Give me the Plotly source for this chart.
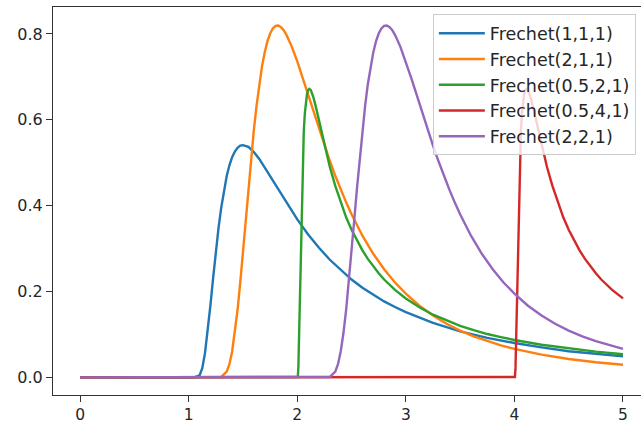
import plotly.graph_objects as go

# Frechet(1,1,1)
x1 = [0.0, 1.0, 1.05, 1.1, 1.125, 1.15, 1.175, 1.2, 1.225, 1.25, 1.275, 1.3, 1.325, 1.35, 1.375, 1.4, 1.425,
      1.45, 1.475, 1.5, 1.55, 1.6, 1.65, 1.7, 1.75, 1.8, 1.9, 2.0, 2.1, 2.2, 2.3, 2.4, 2.5, 2.6, 2.7, 2.8,
      2.9, 3.0, 3.25, 3.5, 3.75, 4.0, 4.25, 4.5, 4.75, 5.0]
y1 = [0, 0, 0, 0.0045, 0.0215, 0.0565, 0.108, 0.168, 0.232, 0.293, 0.349, 0.396, 0.437, 0.469, 0.494, 0.513, 0.526,
      0.535, 0.540, 0.541, 0.537, 0.525, 0.509, 0.489, 0.469, 0.448, 0.406, 0.368, 0.333, 0.302, 0.274, 0.250, 0.228, 0.209, 0.192, 0.177,
      0.164, 0.152, 0.127, 0.107, 0.092, 0.080, 0.070, 0.061, 0.055, 0.049]

# Frechet(2,1,1)
x2 = [0.0, 1.25, 1.3, 1.35, 1.375, 1.4, 1.425, 1.45, 1.475, 1.5, 1.525, 1.55, 1.575, 1.6, 1.625, 1.65, 1.675,
      1.7, 1.725, 1.75, 1.775, 1.8, 1.825, 1.85, 1.875, 1.9, 1.95, 2.0, 2.05, 2.1, 2.15, 2.2, 2.25, 2.3, 2.35,
      2.4, 2.45, 2.5, 2.6, 2.7, 2.8, 2.9, 3.0, 3.125, 3.25, 3.375, 3.5, 3.625, 3.75, 3.875, 4.0, 4.25, 4.5, 4.75, 5.0]
y2 = [0, 0, 0.0011, 0.0133, 0.0309, 0.0603, 0.1028, 0.157, 0.2219, 0.293, 0.3672, 0.441, 0.511, 0.576, 0.633, 0.683, 0.7245,
      0.757, 0.783, 0.801, 0.813, 0.819, 0.8197, 0.816, 0.8087, 0.798, 0.770, 0.736, 0.697, 0.658, 0.617, 0.578, 0.540, 0.504, 0.4696,
      0.438, 0.4077, 0.380, 0.330, 0.288, 0.252, 0.2211, 0.195, 0.167, 0.144, 0.125, 0.109, 0.0956, 0.0843, 0.0746, 0.0663, 0.0530, 0.0430, 0.0353, 0.0294]

# Frechet(0.5,2,1)
x3 = [0.0, 2.0, 2.005, 2.01, 2.015, 2.02, 2.025, 2.03, 2.035, 2.04, 2.045, 2.05, 2.06, 2.07, 2.08, 2.09, 2.1, 2.111,
      2.125, 2.15, 2.175, 2.2, 2.25, 2.3, 2.35, 2.4, 2.45, 2.5, 2.55, 2.6, 2.65, 2.7, 2.75, 2.8, 2.9, 3.0,
      3.125, 3.25, 3.375, 3.5, 3.625, 3.75, 3.875, 4.0, 4.25, 4.5, 4.75, 5.0]
y3 = [0, 0, 0.001, 0.0227, 0.0774, 0.150, 0.2267, 0.298, 0.3646, 0.421, 0.470, 0.511, 0.574, 0.616, 0.644, 0.661, 0.669, 0.672,
      0.669, 0.651, 0.626, 0.598, 0.541, 0.490, 0.446, 0.407, 0.373, 0.344, 0.3184, 0.296, 0.276, 0.258, 0.2426, 0.228, 0.204, 0.184,
      0.1632, 0.146, 0.1322, 0.120, 0.1101, 0.101, 0.0938, 0.0872, 0.0761, 0.0672, 0.060, 0.0540]

# Frechet(0.5,4,1)
x4 = [0.0, 4.0, 4.005, 4.01, 4.015, 4.02, 4.025, 4.03, 4.035, 4.04, 4.045, 4.05, 4.06, 4.07, 4.08, 4.09, 4.1, 4.111,
      4.125, 4.15, 4.175, 4.2, 4.25, 4.3, 4.35, 4.4, 4.45, 4.5, 4.55, 4.6, 4.65, 4.7, 4.75, 4.8, 4.9, 5.0]
y4 = [0, 0, 0.001, 0.0227, 0.0774, 0.150, 0.2267, 0.298, 0.3646, 0.421, 0.470, 0.511, 0.574, 0.616, 0.644, 0.661, 0.669, 0.672,
      0.669, 0.651, 0.626, 0.598, 0.541, 0.490, 0.446, 0.407, 0.373, 0.344, 0.3184, 0.296, 0.276, 0.258, 0.2426, 0.228, 0.204, 0.184]

# Frechet(2,2,1)
x5 = [0.0, 2.25, 2.3, 2.35, 2.375, 2.4, 2.425, 2.45, 2.475, 2.5, 2.525, 2.55, 2.575, 2.6, 2.625, 2.65, 2.675,
      2.7, 2.725, 2.75, 2.775, 2.8, 2.825, 2.85, 2.875, 2.9, 2.95, 3.0, 3.05, 3.1, 3.15, 3.2, 3.25, 3.3, 3.35,
      3.4, 3.45, 3.5, 3.6, 3.7, 3.8, 3.9, 4.0, 4.125, 4.25, 4.375, 4.5, 4.625, 4.75, 4.875, 5.0]
y5 = [0, 0, 0.0011, 0.0133, 0.0309, 0.0603, 0.1028, 0.157, 0.2219, 0.293, 0.3672, 0.441, 0.511, 0.576, 0.633, 0.683, 0.7245,
      0.757, 0.783, 0.801, 0.813, 0.819, 0.8197, 0.816, 0.8087, 0.798, 0.770, 0.736, 0.697, 0.658, 0.617, 0.578, 0.540, 0.504, 0.4696,
      0.438, 0.4077, 0.380, 0.330, 0.288, 0.252, 0.2211, 0.195, 0.167, 0.144, 0.125, 0.109, 0.0956, 0.0843, 0.0746, 0.0663]

names = ["Frechet(1,1,1)", "Frechet(2,1,1)", "Frechet(0.5,2,1)", "Frechet(0.5,4,1)", "Frechet(2,2,1)"]
colors = ["#1f77b4", "#ff7f0e", "#2ca02c", "#d62728", "#9467bd"]
xs = [x1, x2, x3, x4, x5]
ys = [y1, y2, y3, y4, y5]

x_ticks = [0, 1, 2, 3, 4, 5]
y_ticks = [0.0, 0.2, 0.4, 0.6, 0.8]
y_tick_text = ["0.0", "0.2", "0.4", "0.6", "0.8"]

fig = go.Figure()
for i in range(5):
    fig.add_trace(go.Scatter(x=xs[i], y=ys[i], mode="lines", name=names[i],
                             legendgroup=f"g{i}",
                             line=dict(color=colors[i], width=2.4)))

font_family = "DejaVu Sans"
axis_color = "#333333"
fig.update_layout(
    width=642, height=423,
    margin=dict(l=53, r=1, t=7, b=28, autoexpand=False),
    paper_bgcolor="white", plot_bgcolor="white",
    font=dict(family=font_family, size=16, color="#262626"),
    showlegend=True,
    legend=dict(x=0.646, y=0.981, xanchor="left", yanchor="top",
                bgcolor="rgba(255,255,255,0.8)", bordercolor="#cccccc", borderwidth=1,
                font=dict(family=font_family, size=17.5, color="#262626"),
                tracegroupgap=0, itemwidth=46),
    xaxis=dict(range=[-0.25, 5.166], tickmode="array", tickvals=x_ticks,
               ticks="outside", ticklen=6, tickwidth=1, tickcolor=axis_color,
               ticklabelstandoff=-1, automargin=False,
               tickfont=dict(family=font_family, size=15.5, color="#262626"),
               showline=True, linecolor=axis_color, linewidth=1, mirror=True,
               showgrid=False, zeroline=False),
    yaxis=dict(range=[-0.041, 0.8628], tickmode="array", tickvals=y_ticks, ticktext=y_tick_text,
               ticks="outside", ticklen=6, tickwidth=1, tickcolor=axis_color,
               automargin=False,
               showline=True, linecolor=axis_color, linewidth=1,
               showgrid=False, zeroline=False),
)

fig.write_html("out.html", config={"displayModeBar": False},
               post_script="document.body.style.margin='0';")
